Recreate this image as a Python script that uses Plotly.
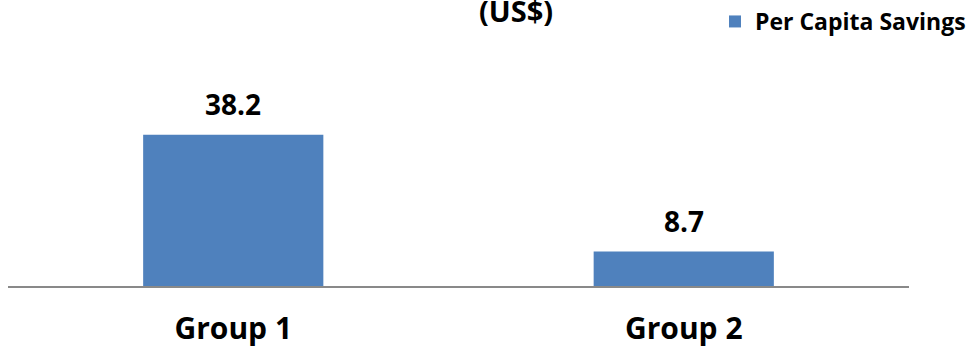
import plotly.graph_objects as go

categories = ["Group 1", "Group 2"]
values = [38.2, 8.7]
value_labels = ["38.2", "8.7"]
series_name = "Per Capita Savings"
title_text = "(US$)"

FONT = "Open Sans"
BAR_COLOR = "#4F81BD"

W, H = 971, 349
ML, MR, MT, MB = 8, 62, 88, 63
PW, PH = W - ML - MR, H - MT - MB

fig = go.Figure()
fig.add_trace(go.Bar(
    x=categories, y=values, name=f"<b>{series_name}</b>",
    marker=dict(color=BAR_COLOR, line=dict(width=0)),
    width=0.4, showlegend=True,
))

annotations = []
for c, v, lab in zip(categories, values, value_labels):
    annotations.append(dict(
        x=c, y=v, xref="x", yref="y", text=f"<b>{lab}</b>",
        showarrow=False, yanchor="bottom", yshift=10,
        font=dict(family=FONT, size=28, color="#000000"),
    ))
annotations.append(dict(
    x=(516 - ML) / PW, y=((H - 32) - MB) / PH, xref="paper", yref="paper",
    text=f"<b>{title_text}</b>",
    showarrow=False, xanchor="center", yanchor="bottom",
    font=dict(family=FONT, size=29, color="#000000"),
))

fig.update_layout(
    width=W, height=H,
    margin=dict(l=ML, r=MR, t=MT, b=MB, autoexpand=False),
    paper_bgcolor="white", plot_bgcolor="white",
    font=dict(family=FONT, color="#000000"),
    showlegend=True,
    legend=dict(
        x=1.0, xanchor="right", xref="container",
        y=1.0, yanchor="top", yref="container",
        font=dict(family=FONT, size=23, color="#000000"),
        bgcolor="rgba(0,0,0,0)", itemwidth=30,
        tracegroupgap=0,
    ),
    xaxis=dict(
        showline=True, linecolor="#898989", linewidth=2,
        showgrid=False, ticks="", zeroline=False,
        tickfont=dict(family=FONT, size=30, color="#000000"),
        tickprefix="<b>", ticksuffix="</b>",
        ticklabelstandoff=15,
    ),
    yaxis=dict(
        range=[0, 50], visible=False, showgrid=False, zeroline=False,
    ),
    annotations=annotations,
)

fig.write_html("out.html")
